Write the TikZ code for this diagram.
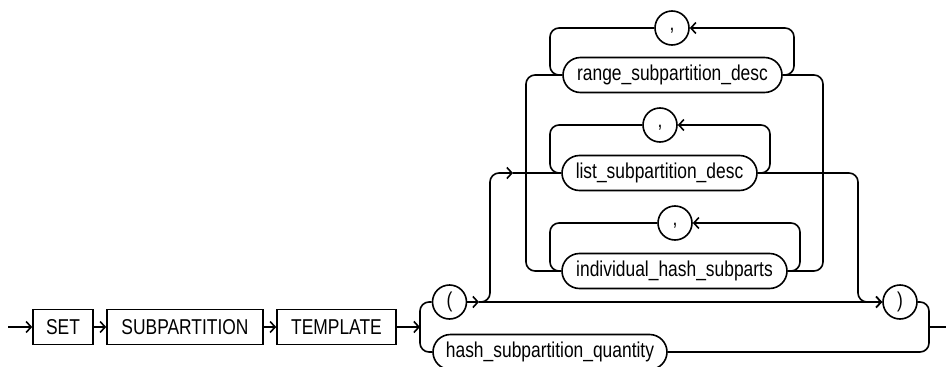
\documentclass[tikz,border=0pt]{standalone}
\usepackage{fontspec}
\setmainfont{Liberation Sans}[FakeStretch=0.81]
\usetikzlibrary{arrows.meta}
\begin{document}
\begin{tikzpicture}[x=1pt,y=-1pt,line width=1.6pt,
  txt/.style={font=\fontsize{21.5}{25}\selectfont},
  kw/.style={txt,draw,rectangle,minimum height=35pt,inner sep=0pt},
  nt/.style={txt,draw,rectangle,rounded corners=17.5pt,minimum height=35pt,inner sep=0pt},
  sym/.style={txt,draw,circle,minimum size=34pt,inner sep=0pt},
  comma/.style={sym,text height=4pt,text depth=0pt},
  arr/.style={-{Straight Barb[length=5pt,width=11pt]}},
  rc/.style={rounded corners=9pt}]
\useasboundingbox (0,0) rectangle (946,367);
% nodes
\node[kw,minimum width=60pt]  (set) at (63,327)    {SET};
\node[kw,minimum width=156pt] (sub) at (185,327)   {SUBPARTITION};
\node[kw,minimum width=119pt] (tmp) at (336.5,327) {TEMPLATE};
\node[sym] (lp) at (449.5,302) {(};
\node[nt,minimum width=234pt] (hash)  at (550,352)   {hash\_subpartition\_quantity};
\node[nt,minimum width=219pt] (range) at (672.5,75)  {range\_subpartition\_desc};
\node[nt,minimum width=195pt] (list)  at (659.5,173) {list\_subpartition\_desc};
\node[nt,minimum width=225pt] (ind)   at (674.5,271) {individual\_hash\_subparts};
\node[comma] (c1) at (672,28)  {,};
\node[comma] (c2) at (660,125) {,};
\node[comma] (c3) at (675,223) {,};
\node[sym] (rp) at (900,302) {)};
% coordinates
\coordinate (start) at (8,327);
\coordinate (split) at (420,327);
\coordinate (join)  at (929,327);
\coordinate (end)   at (946,327);
\coordinate (a1)    at (479,302);
\coordinate (up)    at (490,302);
\coordinate (upA)   at (513,173);
\coordinate (dn)    at (858,302);
\coordinate (oL)    at (526,173);
\coordinate (oR)    at (823,173);
\coordinate (r1L)   at (550,28);
\coordinate (r1R)   at (794,28);
\coordinate (r2L)   at (550,125);
\coordinate (r2R)   at (770,125);
\coordinate (r3L)   at (550,223);
\coordinate (r3R)   at (800,223);
% main line
\draw[arr] (start) -- (set);
\draw[arr] (set) -- (sub);
\draw[arr] (sub) -- (tmp);
\draw[arr] (tmp) -- (split);
\draw[rc] (lp) -| (split) |- (hash);
\draw[rc] (rp) -| (join) |- (hash);
\draw (join) -- (end);
\draw[arr] (lp) -- (a1);
\draw[arr] (a1) -- (rp);
\draw[rc,arr] (a1) -- (up) |- (upA);
\draw (upA) -- (list);
\draw[rc,arr] (list) -| (dn) -- (rp);
% choice between range / individual
\draw[rc] (range) -| (oL) |- (ind);
\draw[rc] (range) -| (oR) |- (ind);
% repeat loops
\draw[rc] (range) -| (r1L) -- (c1);
\draw[rc,arr] (range) -| (r1R) -- (c1);
\draw[rc] (list) -| (r2L) -- (c2);
\draw[rc,arr] (list) -| (r2R) -- (c2);
\draw[rc] (ind) -| (r3L) -- (c3);
\draw[rc,arr] (ind) -| (r3R) -- (c3);
\end{tikzpicture}
\end{document}
